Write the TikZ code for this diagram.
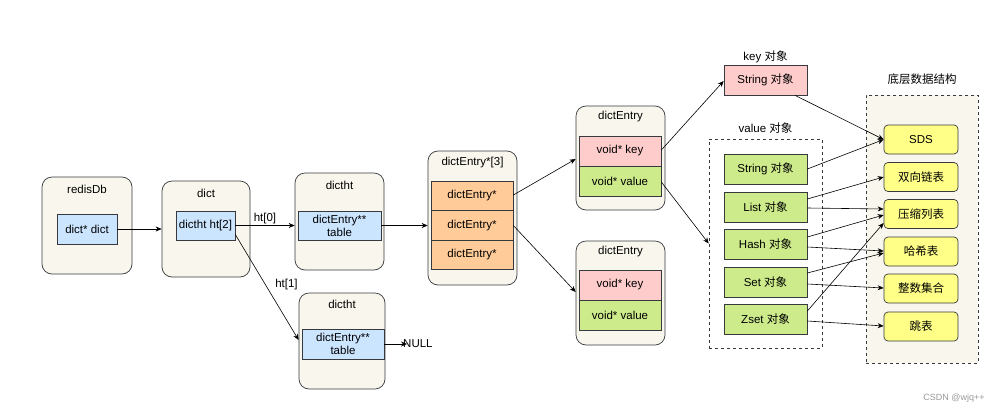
\documentclass[tikz,border=0pt]{standalone}
\usepackage{fontspec}
\setmainfont{Liberation Sans}
\newfontfamily\cjk{Noto Sans CJK SC}
\usetikzlibrary{arrows.meta,calc}
\definecolor{bd}{HTML}{36393D}
\definecolor{beige}{HTML}{F9F7ED}
\definecolor{bluef}{HTML}{CCE5FF}
\definecolor{orangef}{HTML}{FFCC99}
\definecolor{pinkf}{HTML}{FFCCCC}
\definecolor{greenf}{HTML}{CDEB8B}
\definecolor{yellowf}{HTML}{FFFF88}
\begin{document}
\begin{tikzpicture}[x=1pt,y=-1pt,
  font=\fontsize{11.5}{13}\selectfont,
  outerbox/.style={draw=bd, fill=beige, rounded corners=10pt, line width=0.7pt, inner sep=0pt},
  cell/.style={draw=bd, line width=0.7pt, inner sep=0pt, minimum height=30pt, align=center},
  bluecell/.style={cell, fill=bluef},
  orangecell/.style={cell, fill=orangef, minimum width=82pt, minimum height=29.5pt},
  pinkcell/.style={cell, fill=pinkf, minimum width=83pt},
  greencell/.style={cell, fill=greenf, minimum width=83pt},
  yellowcell/.style={cell, fill=yellowf, rounded corners=4pt, minimum width=74pt, minimum height=29pt},
  dashbox/.style={draw=bd, dashed, line width=0.6pt, inner sep=0pt},
  lbl/.style={inner sep=1pt},
  conn/.style={draw=black, line width=0.6pt, -{Stealth[length=6pt,width=5pt]}}
]
\useasboundingbox (0,0) rectangle (1004,413);

% redisDb
\node[outerbox, minimum width=90pt, minimum height=97pt] (redis) at (87,225.5) {};
\node[lbl] (redist) at (87,189) {redisDb};
\node[bluecell, minimum width=60pt] (redisin) at (87,229) {dict* dict};

% dict
\node[outerbox, minimum width=88pt, minimum height=96pt] (dict) at (206,229) {};
\node[lbl] (dictt) at (206,193) {dict};
\node[bluecell, minimum width=59pt, minimum height=29pt] (dictin) at (205.5,225.5) {dictht ht[2]};

% dictht top
\node[outerbox, minimum width=89pt, minimum height=97pt] (ht0) at (339.5,221.5) {};
\node[lbl] (ht0t) at (339.5,185) {dictht};
\node[bluecell, minimum width=83pt, minimum height=29pt] (ht0in) at (339.5,225.5) {dictEntry**\\table};

% dictht bottom
\node[outerbox, minimum width=86pt, minimum height=96pt] (ht1) at (342,341) {};
\node[lbl] (ht1t) at (342,304) {dictht};
\node[bluecell, minimum width=82pt] (ht1in) at (343,344) {dictEntry**\\table};
\node[lbl, anchor=west, inner sep=0pt] (null) at (403,344) {NULL};

% dictEntry*[3]
\node[outerbox, minimum width=89pt, minimum height=134pt] (arr) at (472.5,218) {};
\node[lbl] (arrt) at (472.5,163) {dictEntry*[3]};
\node[orangecell] (e1) at (472,196) {dictEntry*};
\node[orangecell] (e2) at (472,225.5) {dictEntry*};
\node[orangecell] (e3) at (472,255) {dictEntry*};

% dictEntry top
\node[outerbox, minimum width=89pt, minimum height=104pt] (de1) at (620.5,158) {};
\node[lbl] (de1t) at (620.5,117) {dictEntry};
\node[cell, fill=pinkf, minimum width=82pt] (k1) at (620,151) {void* key};
\node[cell, fill=greenf, minimum width=82pt] (v1) at (620,181) {void* value};

% dictEntry bottom
\node[outerbox, minimum width=89pt, minimum height=104pt] (de2) at (620.5,293) {};
\node[lbl] (de2t) at (620.5,252) {dictEntry};
\node[cell, fill=pinkf, minimum width=82pt] (k2) at (620,285) {void* key};
\node[cell, fill=greenf, minimum width=82pt] (v2) at (620,315) {void* value};

% key object
\node[lbl] (keyt) at (765.5,57) {key {\cjk 对象}};
\node[pinkcell] (kstr) at (765.5,80) {String {\cjk 对象}};

% value objects
\node[lbl] (valt) at (765.5,128) {value {\cjk 对象}};
\node[dashbox, minimum width=113pt, minimum height=209pt] (vbox) at (765.5,243.5) {};
\node[greencell] (gstr) at (765.5,169) {String {\cjk 对象}};
\node[greencell] (glist) at (765.5,207) {List {\cjk 对象}};
\node[greencell] (ghash) at (765.5,244) {Hash {\cjk 对象}};
\node[greencell] (gset) at (765.5,282) {Set {\cjk 对象}};
\node[greencell] (gzset) at (765.5,319) {Zset {\cjk 对象}};

% underlying structures
\node[lbl] (dst) at (922,79) {\cjk 底层数据结构};
\node[dashbox, fill=beige, minimum width=112pt, minimum height=268pt] (dbox) at (922,229) {};
\node[yellowcell] (sds) at (921,139.5) {SDS};
\node[yellowcell] (ll) at (921,177) {\cjk 双向链表};
\node[yellowcell] (zl) at (921,214) {\cjk 压缩列表};
\node[yellowcell] (ht) at (921,251.5) {\cjk 哈希表};
\node[yellowcell] (is) at (921,288.5) {\cjk 整数集合};
\node[yellowcell] (sl) at (921,326.5) {\cjk 跳表};

\node[lbl, text=black!40, font=\fontsize{9}{10}\selectfont] (csdn) at (954,398) {CSDN @wjq++};

% connectors
\draw[conn] (redisin.east) -- (redisin.east -| dict.west);
\draw[conn] (dictin.east) -- node[above, lbl] (l0) {ht[0]} (dictin.east -| ht0.west);
\draw[conn] ($(dictin.east)+(0,9)$) -- node[pos=0.5, right, lbl, xshift=7pt, yshift=3pt] (l1) {ht[1]} ($(ht1.west)+(0,-1)$);
\draw[conn] (ht0in.east) -- (ht0in.east -| arr.west);
\draw[conn] (ht1in.east) -- ($(null.west)+(4,0)$);
\draw[conn] ($(e1.east)+(0,-1)$) -- ($(de1.west)+(0,1)$);
\draw[conn] (e2.east) -- ($(de2.west)+(0,-1)$);
\draw[conn] ($(k1.east)+(0,-1)$) -- ($(kstr.west)+(0,1)$);
\draw[conn] ($(v1.east)+(0,1)$) -- (vbox.west);
\draw[conn] ($(kstr.south)+(29.5,0)$) -- (sds.west);
\draw[conn] (gstr.east) -- (sds.west);
\draw[conn] ($(glist.east)+(0,-8)$) -- (ll.west);
\draw[conn] ($(glist.east)+(0,1)$) -- ($(zl.west)+(0,-5)$);
\draw[conn] ($(ghash.east)+(0,-7)$) -- ($(zl.west)+(0,1)$);
\draw[conn] ($(ghash.east)+(0,3)$) -- ($(ht.west)+(0,-0.5)$);
\draw[conn] ($(gset.east)+(0,-9)$) -- ($(ht.west)+(0,1.5)$);
\draw[conn] ($(gset.east)+(0,2)$) -- ($(is.west)+(0,-0.5)$);
\draw[conn] ($(gzset.east)+(0,-8)$) -- ($(zl.west)+(0,9)$);
\draw[conn] ($(gzset.east)+(0,2)$) -- ($(sl.west)+(0,-0.5)$);
\end{tikzpicture}
\end{document}
